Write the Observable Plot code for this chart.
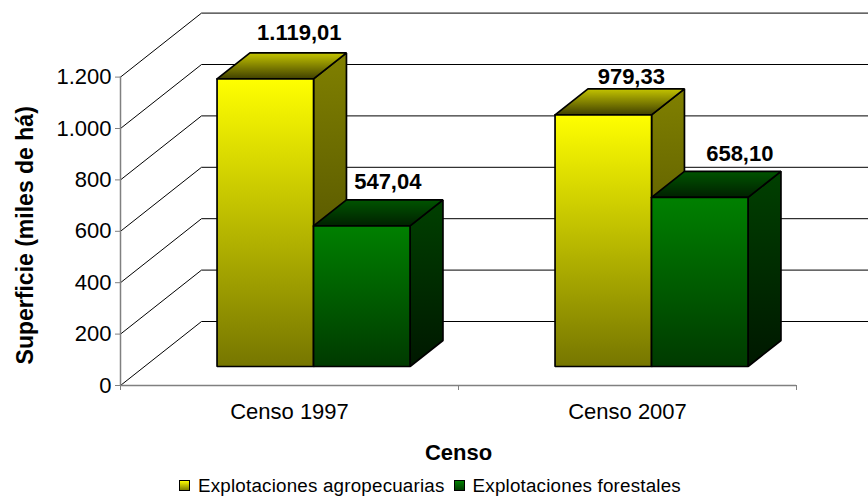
<!DOCTYPE html>
<html><head><meta charset="utf-8">
<script src="https://cdn.jsdelivr.net/npm/d3@7"></script>
<script src="https://cdn.jsdelivr.net/npm/@observablehq/plot@0.6"></script>
<style>
html,body{margin:0;padding:0;background:#fff;}
#c svg{display:block;}
#legend{font:18.8px "Liberation Sans",Arial,sans-serif;letter-spacing:.2px;color:#000;height:23px;padding-left:179px;display:flex;align-items:center;white-space:nowrap;}
#legend i{display:inline-block;width:9px;height:9px;border:1px solid #000;margin-right:8px;}
#legend span{margin-right:9px;}
</style></head><body>
<div id="c"></div>
<div id="legend"></div>
<script>
const categories = ["Censo 1997", "Censo 2007"];
const seriesNames = ["Explotaciones agropecuarias", "Explotaciones forestales"];
const agropecuarias = [1119.01, 979.33];
const forestales = [547.04, 658.10];
const yTicks = [0, 200, 400, 600, 800, 1000, 1200];
const xBoundaries = [0, 1, 2];

const W = 868, H = 474, PX_PER_CAT = 338, PX_PER_UNIT = 0.257, Y0 = 385, X0 = 120;
const fmtLabel = d3.formatLocale({decimal: ",", thousands: ".", grouping: [3], currency: ["", ""]}).format(",.2f");
const fmtTick = d3.formatLocale({decimal: ",", thousands: ".", grouping: [3], currency: ["", ""]}).format(",d");

// oblique depth projection, in data units
const DX = 81 / PX_PER_CAT, DY = 64 / PX_PER_UNIT;
const dNear = 19 / 64, dFar = 45 / 64;
const barW = 96.5 / PX_PER_CAT, gap = 0.2145;
const P = (x, v, d) => ({x: x + d * DX, y: v + d * DY});

function boxFaces(i, j, v) {
  const x1 = i + gap + j * barW, x2 = x1 + barW;
  const poly = pts => pts.map(p => ({...p, id: `${i}-${j}`}));
  return {
    side: poly([P(x2, v, dNear), P(x2, v, dFar), P(x2, 0, dFar), P(x2, 0, dNear), P(x2, v, dNear)]),
    top: poly([P(x1, v, dNear), P(x1, v, dFar), P(x2, v, dFar), P(x2, v, dNear), P(x1, v, dNear)]),
    front: poly([P(x1, v, dNear), P(x2, v, dNear), P(x2, 0, dNear), P(x1, 0, dNear), P(x1, v, dNear)])
  };
}

const gridData = yTicks.flatMap(t => [
  {...P(0, t, 0), t}, {...P(0, t, 1), t}, {x: (W - X0) / PX_PER_CAT, y: t + DY, t}
]);

const face = (pts, fill) => Plot.line(pts, {x: "x", y: "y", z: "id", fill, stroke: "#000", strokeWidth: 1.7, strokeLinejoin: "miter"});
const barMarks = [];
[[agropecuarias, 0, "y"], [forestales, 1, "g"]].forEach(([vals, j, k]) => {
  vals.forEach((v, i) => {
    const f = boxFaces(i, j, v);
    barMarks.push(face(f.side, `url(#${k}Side)`), face(f.top, `url(#${k}Top)`), face(f.front, `url(#${k}Front)`));
  });
});

const label = (text, i, j, v, dx, dy) => {
  const p = P(i + gap + (j + 0.5) * barW, v, dNear);
  return Plot.text([text], {x: p.x, y: p.y, text: d => d, dx, dy, fontSize: 22, fontWeight: "bold", fill: "#000"});
};

const chart = Plot.plot({
  width: W, height: H,
  marginLeft: X0, marginRight: 0, marginTop: 0, marginBottom: H - Y0,
  style: {fontFamily: '"Liberation Sans",Arial,sans-serif', background: "#fff", color: "#000"},
  x: {domain: [0, (W - X0) / PX_PER_CAT], range: [X0, W]},
  y: {domain: [0, Y0 / PX_PER_UNIT], range: [Y0, 0]},
  marks: [
    Plot.line(gridData, {x: "x", y: "y", z: "t", stroke: "#000", strokeWidth: 1}),
    ...barMarks,
    Plot.ruleY([0], {x1: 0, x2: 2, stroke: "#808080", strokeWidth: 1.5}),
    Plot.ruleX([0], {y1: 0, y2: 1200, stroke: "#808080", strokeWidth: 1.5}),
    Plot.axisY({ticks: yTicks, tickFormat: fmtTick, tickSize: 5, tickPadding: 4, stroke: "#808080", fontSize: 22, label: null, color:"#000"}),
    Plot.axisX({ticks: xBoundaries, tickSize: 5, stroke: "#808080", tickFormat: () => "", label: null}),
    Plot.text(categories, {x: (d, i) => i + 0.5, y: 0, text: d => d, dy: 26, fontSize: 22, fill: "#000"}),
    label(fmtLabel(agropecuarias[0]), 0, 0, agropecuarias[0], 34, -46),
    label(fmtLabel(forestales[0]), 0, 1, forestales[0], 26, -44),
    label(fmtLabel(agropecuarias[1]), 1, 0, agropecuarias[1], 28, -38),
    label(fmtLabel(forestales[1]), 1, 1, forestales[1], 40, -43),
    Plot.text(["Censo"], {x: 1, y: 0, text: d => d, dy: 67, fontSize: 22, fontWeight: "bold", fill: "#000"}),
    Plot.text(["Superficie (miles de há)"], {x: 0, y: 600, text: d => d, dx: -95, dy: 4, rotate: -90, fontSize: 23, fontWeight: "bold", fill: "#000"})
  ]
});

const grads = {
  yFront: ["#ffff00", "#767600"], ySide: ["#808000", "#404000"], yTop: ["#c4c400", "#404000"],
  gFront: ["#008000", "#003a00"], gSide: ["#004000", "#001800"], gTop: ["#005400", "#002000"]
};
const ns = "http://www.w3.org/2000/svg";
const defs = document.createElementNS(ns, "defs");
for (const [id, [a, b]] of Object.entries(grads)) {
  const g = document.createElementNS(ns, "linearGradient");
  g.setAttribute("id", id); g.setAttribute("x1", 0); g.setAttribute("y1", 0); g.setAttribute("x2", 0); g.setAttribute("y2", 1);
  [[0, a], [1, b]].forEach(([o, c]) => {
    const s = document.createElementNS(ns, "stop");
    s.setAttribute("offset", o); s.setAttribute("stop-color", c); g.appendChild(s);
  });
  defs.appendChild(g);
}
chart.insertBefore(defs, chart.firstChild);
document.getElementById("c").appendChild(chart);

const lg = document.getElementById("legend");
seriesNames.forEach((n, i) => {
  const sw = document.createElement("i");
  sw.style.background = i === 0 ? "linear-gradient(#ffff00,#808000)" : "linear-gradient(#008000,#003a00)";
  const t = document.createElement("span"); t.textContent = n;
  lg.append(sw, t);
});
</script>
</body></html>
